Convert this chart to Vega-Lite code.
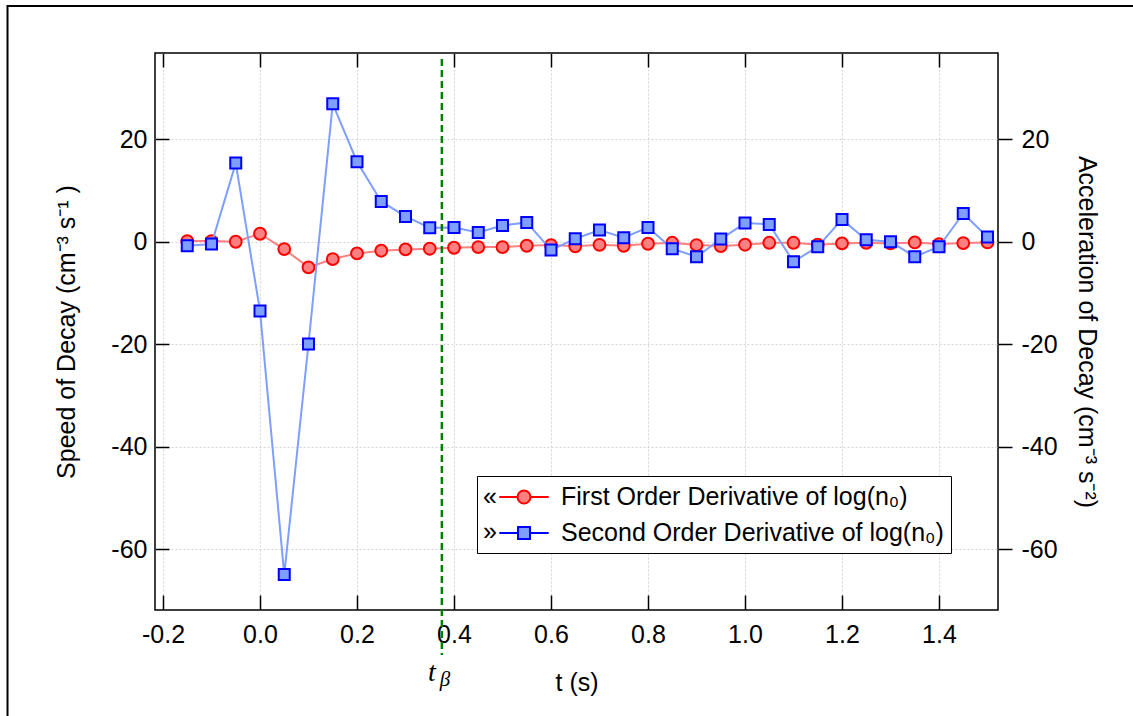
{
  "$schema": "https://vega.github.io/schema/vega-lite/v6.json",
  "width": 843,
  "height": 557,
  "autosize": {"type": "none"},
  "padding": {"left": 155, "top": 53, "right": 135, "bottom": 106},
  "background": "white",
  "config": {
    "font": "Liberation Sans",
    "view": {"stroke": "black", "strokeWidth": 1.5},
    "axis": {
      "labelFont": "Liberation Sans",
      "labelFontSize": 25,
      "labelColor": "black",
      "titleFont": "Liberation Sans",
      "titleFontSize": 25,
      "titleFontWeight": "normal",
      "titleColor": "black",
      "tickColor": "black",
      "tickWidth": 1.5,
      "domain": false,
      "gridColor": "#d3d3d3",
      "gridDash": [2, 2],
      "gridWidth": 1,
      "labelExpr": "replace(datum.label, '−', '-')"
    }
  },
  "datasets": {
    "derivs": [
      {"t": -0.15, "first": 0.13, "second": -0.78},
      {"t": -0.10, "first": 0.13, "second": -0.45},
      {"t": -0.05, "first": 0.0, "second": 15.33},
      {"t": 0.00, "first": 1.56, "second": -13.5},
      {"t": 0.05, "first": -1.43, "second": -64.9},
      {"t": 0.10, "first": -5.0, "second": -19.94},
      {"t": 0.15, "first": -3.38, "second": 26.9},
      {"t": 0.20, "first": -2.27, "second": 15.6},
      {"t": 0.25, "first": -1.75, "second": 7.86},
      {"t": 0.30, "first": -1.49, "second": 4.94},
      {"t": 0.35, "first": -1.36, "second": 2.73},
      {"t": 0.40, "first": -1.17, "second": 2.79},
      {"t": 0.45, "first": -1.04, "second": 1.82},
      {"t": 0.50, "first": -1.04, "second": 3.18},
      {"t": 0.55, "first": -0.78, "second": 3.77},
      {"t": 0.60, "first": -0.65, "second": -1.62},
      {"t": 0.65, "first": -0.9, "second": 0.58},
      {"t": 0.70, "first": -0.6, "second": 2.27},
      {"t": 0.75, "first": -0.78, "second": 0.78},
      {"t": 0.80, "first": -0.39, "second": 2.79},
      {"t": 0.85, "first": -0.2, "second": -1.36},
      {"t": 0.90, "first": -0.65, "second": -2.92},
      {"t": 0.95, "first": -0.84, "second": 0.52},
      {"t": 1.00, "first": -0.58, "second": 3.64},
      {"t": 1.05, "first": -0.2, "second": 3.38},
      {"t": 1.10, "first": -0.2, "second": -3.9},
      {"t": 1.15, "first": -0.58, "second": -0.97},
      {"t": 1.20, "first": -0.32, "second": 4.35},
      {"t": 1.25, "first": -0.2, "second": 0.39},
      {"t": 1.30, "first": -0.32, "second": 0.0},
      {"t": 1.35, "first": -0.13, "second": -2.92},
      {"t": 1.40, "first": -0.45, "second": -0.97},
      {"t": 1.45, "first": -0.26, "second": 5.52},
      {"t": 1.50, "first": -0.13, "second": 0.91}
    ],
    "legendRows": [
      {"series": "First Order Derivative of log(n₀)", "side": "«"},
      {"series": "Second Order Derivative of log(n₀)", "side": "»"}
    ],
    "single": [{}]
  },
  "layer": [
    {
      "data": {"name": "single"},
      "mark": {"type": "rect", "filled": false, "stroke": "black", "strokeWidth": 2, "clip": false},
      "encoding": {
        "x": {"datum": -0.5206, "type": "quantitative", "scale": {"domain": [-0.21649, 1.52165], "nice": false, "zero": false}, "axis": null},
        "x2": {"datum": 1.8103},
        "y": {"datum": 45.96, "type": "quantitative", "scale": {"domain": [-71.8, 36.8], "nice": false, "zero": false}, "axis": null},
        "y2": {"datum": -93.25}
      }
    },
    {
      "data": {"name": "derivs"},
      "encoding": {
        "x": {
          "field": "t", "type": "quantitative",
          "scale": {"domain": [-0.21649, 1.52165], "nice": false, "zero": false},
          "axis": {"orient": "bottom", "values": [-0.2, 0, 0.2, 0.4, 0.6, 0.8, 1.0, 1.2, 1.4], "format": ".1f", "title": "t (s)", "tickSize": -15, "labelPadding": 27, "grid": true, "titlePadding": 23}
        },
        "y": {
          "field": "first", "type": "quantitative",
          "scale": {"domain": [-71.8, 36.8], "nice": false, "zero": false},
          "axis": {"orient": "left", "values": [-60, -40, -20, 0, 20], "title": "Speed of Decay (cm⁻³ s⁻¹ )", "tickSize": -14, "labelPadding": 22, "grid": true, "titlePadding": 31}
        }
      },
      "layer": [
        {"mark": {"type": "line", "color": "#ff8080", "strokeWidth": 2}},
        {"mark": {"type": "point", "shape": "circle", "filled": true, "fill": "#ff8080", "stroke": "#ff0000", "strokeWidth": 2, "size": 140, "opacity": 1}}
      ]
    },
    {
      "data": {"name": "derivs"},
      "encoding": {
        "x": {
          "field": "t", "type": "quantitative",
          "scale": {"domain": [-0.21649, 1.52165], "nice": false, "zero": false},
          "axis": {"orient": "top", "values": [-0.2, 0, 0.2, 0.4, 0.6, 0.8, 1.0, 1.2, 1.4], "labels": false, "title": null, "tickSize": -14, "grid": false}
        },
        "y": {
          "field": "second", "type": "quantitative",
          "scale": {"domain": [-71.8, 36.8], "nice": false, "zero": false},
          "axis": {"orient": "right", "values": [-60, -40, -20, 0, 20], "title": "Acceleration of Decay (cm⁻³ s⁻²)", "tickSize": 14, "labelPadding": 9, "grid": false, "titlePadding": 16}
        }
      },
      "layer": [
        {"mark": {"type": "line", "color": "#7f9fff", "strokeWidth": 2}},
        {"mark": {"type": "point", "shape": "square", "filled": true, "fill": "#7f9fff", "stroke": "#0000ff", "strokeWidth": 2, "size": 121, "opacity": 1}}
      ]
    },
    {
      "data": {"name": "single"},
      "mark": {"type": "rule", "stroke": "#008000", "strokeWidth": 2.5, "strokeDash": [7, 4], "clip": false},
      "encoding": {
        "x": {"datum": 0.375, "type": "quantitative", "axis": null},
        "y": {"datum": 35.63, "type": "quantitative", "axis": null},
        "y2": {"datum": -80.57}
      }
    },
    {
      "data": {"name": "single"},
      "mark": {"type": "text", "text": "t", "font": "Liberation Serif", "fontStyle": "italic", "fontSize": 28, "align": "center", "baseline": "alphabetic", "dx": -10, "dy": 26, "clip": false},
      "encoding": {
        "x": {"datum": 0.375, "type": "quantitative", "axis": null},
        "y": {"datum": -80.57, "type": "quantitative", "axis": null}
      }
    },
    {
      "data": {"name": "single"},
      "mark": {"type": "text", "text": "β", "font": "Liberation Serif", "fontStyle": "italic", "fontSize": 21, "align": "center", "baseline": "alphabetic", "dx": 3, "dy": 31, "clip": false},
      "encoding": {
        "x": {"datum": 0.375, "type": "quantitative", "axis": null},
        "y": {"datum": -80.57, "type": "quantitative", "axis": null}
      }
    },
    {
      "data": {"name": "legendRows"},
      "mark": {"type": "point", "filled": true, "strokeWidth": 2},
      "encoding": {
        "shape": {
          "field": "series", "type": "nominal",
          "scale": {"range": [
            "M-1.9,0H-0.5M0.5,0H1.9M0.5,0A0.5,0.5,0,1,1,-0.5,0A0.5,0.5,0,1,1,0.5,0Z",
            "M-1.9,0H-0.46M0.46,0H1.9M-0.46,-0.46H0.46V0.46H-0.46Z"
          ]},
          "legend": {"orient": "none", "direction": "vertical", "columns": 1, "legendX": 322, "legendY": 423, "title": null, "padding": 7, "strokeColor": "black", "fillColor": "white", "symbolSize": 676, "symbolStrokeWidth": 2, "symbolOffset": 26, "labelOffset": 23, "rowPadding": 9, "labelFontSize": 25, "labelFont": "Liberation Sans", "labelLimit": 0, "labelColor": "black", "symbolOpacity": 1}
        },
        "fill": {
          "field": "series", "type": "nominal",
          "scale": {"range": ["#ff8080", "#7f9fff"]},
          "legend": {"orient": "none", "direction": "vertical", "columns": 1, "legendX": 322, "legendY": 423, "title": null, "padding": 7, "strokeColor": "black", "fillColor": "white", "symbolSize": 676, "symbolStrokeWidth": 2, "symbolOffset": 26, "labelOffset": 23, "rowPadding": 9, "labelFontSize": 25, "labelFont": "Liberation Sans", "labelLimit": 0, "labelColor": "black", "symbolOpacity": 1}
        },
        "stroke": {
          "field": "series", "type": "nominal",
          "scale": {"range": ["#ff0000", "#0000ff"]},
          "legend": {"orient": "none", "direction": "vertical", "columns": 1, "legendX": 322, "legendY": 423, "title": null, "padding": 7, "strokeColor": "black", "fillColor": "white", "symbolSize": 676, "symbolStrokeWidth": 2, "symbolOffset": 26, "labelOffset": 23, "rowPadding": 9, "labelFontSize": 25, "labelFont": "Liberation Sans", "labelLimit": 0, "labelColor": "black", "symbolOpacity": 1}
        },
        "opacity": {
          "field": "side", "type": "nominal",
          "scale": {"type": "ordinal", "domain": ["«", "»"], "range": [0, 0]},
          "legend": {"orient": "none", "direction": "vertical", "columns": 1, "legendX": 300, "legendY": 430, "title": null, "padding": 0, "symbolSize": 676, "symbolStrokeWidth": 2, "symbolOpacity": 0, "symbolOffset": 0, "labelOffset": 0, "rowPadding": 8, "labelFontSize": 25, "labelFont": "Liberation Sans", "labelColor": "black", "labelLimit": 0, "values": ["«", "»"]}
        }
      }
    }
  ],
  "resolve": {"axis": {"x": "independent", "y": "independent"}}
}
